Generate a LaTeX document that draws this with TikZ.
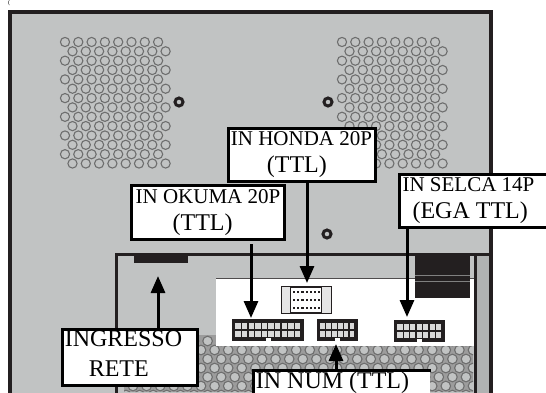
\documentclass[tikz,border=0pt]{standalone}
\usepackage{fontspec}
\setmainfont{Liberation Serif}
\usetikzlibrary{arrows.meta}

\definecolor{panelgray}{HTML}{C1C3C3}
\definecolor{stripgray}{HTML}{B0B2B2}
\definecolor{meshgray}{HTML}{9C9C9C}
\definecolor{holegray}{HTML}{6E6E6E}
\definecolor{inkblack}{HTML}{231F20}

\tikzset{
    labelbox/.style={draw=black, line width=3pt, fill=white, anchor=north west, align=left, inner sep=0pt,
        font=\fontsize{21}{27}\selectfont},
    sigline/.style={line width=3pt, draw=black, -{Triangle[length=17pt,width=14pt]}},
    hole/.style={draw=holegray, line width=1.1pt},
    screw/.style={draw=inkblack, line width=3pt, fill=panelgray}
}

% riga di testo piu' grande
\newcommand{\bigline}[1]{{\fontsize{24}{27}\selectfont #1}}

% connettore: x, y, larghezza, altezza, colonne
\newcommand{\connbox}[5]{
    \fill[inkblack] (#1,#2) rectangle ++(#3,#4);
    \fill[white] (#1+#3/2-2.5,#2+#4-3) rectangle ++(5,3);
    \foreach \c in {1,...,#5} {
        \fill[white!85!black] ({#1+3+(\c-1)*(#3-6)/#5+0.4},#2+4) rectangle ++({(#3-6)/#5-1.2},6);
        \fill[white!85!black] ({#1+3+(\c-1)*(#3-6)/#5+0.4},#2+12) rectangle ++({(#3-6)/#5-1.2},6);
    }
}

\begin{document}
\begin{tikzpicture}[x=1pt, y=-1pt]
    \clip (0,0) rectangle (546,392);

    % pannello
    \fill[white] (0,0) rectangle (546,392);
    \draw[line width=4pt, draw=inkblack, fill=panelgray] (10,400) -- (10,12) -- (491,12) -- (491,400);

    % fori in alto
    \foreach \ox in {65,342} {
        \foreach \r in {0,...,6} {
            \foreach \c in {0,...,7} {
                \draw[hole] ({\ox+\c*13.3},{42+\r*18.7}) circle (4.6);
                \draw[hole] ({\ox+7.5+\c*13.3},{51.3+\r*18.7}) circle (4.6);
            }
        }
    }

    % viti
    \draw[screw] (179,102) circle (4);
    \draw[screw] (328,102) circle (4);
    \draw[screw] (327,234) circle (4);
    \draw[screw] (180,234) circle (4);

    % vano inferiore
    \fill[stripgray] (475,254) rectangle (491,400);
    \draw[line width=3pt, draw=inkblack] (116,400) -- (116,254) -- (491,254);
    \draw[line width=3pt, draw=inkblack] (475,254) -- (475,400);
    \draw[line width=4pt, draw=inkblack] (491,254) -- (491,400);

    % griglia sotto la scheda
    \begin{scope}
        \clip (124,335) -- (216,335) -- (216,346) -- (473,346) -- (473,392) -- (124,392) -- cycle;
        \fill[meshgray] (124,335) rectangle (473,392);
        \foreach \r in {0,...,3} {
            \foreach \c in {0,...,26} {
                \draw[hole, fill=panelgray] ({126+\c*13.6},{341+\r*18}) circle (4.8);
                \draw[hole, fill=panelgray] ({133+\c*13.6},{350+\r*18}) circle (4.8);
            }
        }
    \end{scope}

    % scheda
    \fill[white] (216,278) rectangle (473.5,346);
    \draw[line width=1pt, draw=inkblack!80] (216,278) -- (473.5,278);

    % blocchi neri
    \fill[inkblack] (134,254) rectangle (188,263);
    \fill[inkblack] (415,256) rectangle (470,298);
    \draw[line width=1pt, draw=gray] (415,275) -- (470,275);
    \draw[line width=1pt, draw=gray] (415,281) -- (470,281);

    % connettori
    \connbox{232}{319}{72}{22}{10}
    \connbox{317}{319}{41}{22}{6}
    \connbox{394}{320}{51}{22}{7}

    % connettore alto
    \draw[line width=1pt, draw=inkblack, fill=white!90!black] (281,286) rectangle (331,313);
    \draw[line width=1pt, draw=inkblack, fill=white] (290,287) rectangle (321,312);
    \foreach \r in {291,299,307} {
        \foreach \c in {0,...,6} {
            \fill[inkblack] ({293+\c*4.2},\r) rectangle ++(2.2,2);
        }
    }

    % etichette
    \node[labelbox, minimum width=147pt, minimum height=53pt] (honda) at (226.5,127) {IN HONDA 20P\\\hspace*{36pt}\bigline{(TTL)}};
    \node[labelbox, minimum width=153pt, minimum height=54pt] (okuma) at (130,184) {IN OKUMA 20P\\\hspace*{37pt}\bigline{(TTL)}};
    \node[labelbox, minimum width=150pt, minimum height=53pt] (selca) at (398,173) {IN SELCA 14P\hspace*{12pt}\\\hspace*{10pt}\bigline{(EGA TTL)}};
    \node[labelbox, minimum width=135pt, minimum height=56pt] (ingresso) at (61,328) {\bigline{INGRESSO}\hspace*{13pt}\\[3pt]\hspace*{24pt}\bigline{RETE}\rule[-7pt]{0pt}{7pt}};
    \node[labelbox, minimum width=175pt, minimum height=22pt, draw=none] (num) at (253,370) {\bigline{IN NUM (TTL)}\hspace*{19pt}};
    \draw[line width=3pt, draw=black] (num.south west) -- (num.north west) -- (num.north east);

    % frecce
    \coordinate (okumapin) at (251,318);
    \coordinate (hondapin) at (307,283);
    \coordinate (selcapin) at (407,317);
    \coordinate (retepin) at (158,276);
    \coordinate (numpin) at (336,344);
    \draw[sigline, shorten <=3pt] (okuma.south -| okumapin) -- (okumapin);
    \draw[sigline] (honda.south -| hondapin) -- (hondapin);
    \draw[sigline] (selca.south -| selcapin) -- (selcapin);
    \draw[sigline] (ingresso.north -| retepin) -- (retepin);
    \draw[sigline] (num.north -| numpin) -- (numpin);

    % segno in alto
    \node[font=\fontsize{6}{6}\selectfont, inner sep=0pt] (mark) at (9,3) {(};
\end{tikzpicture}
\end{document}
